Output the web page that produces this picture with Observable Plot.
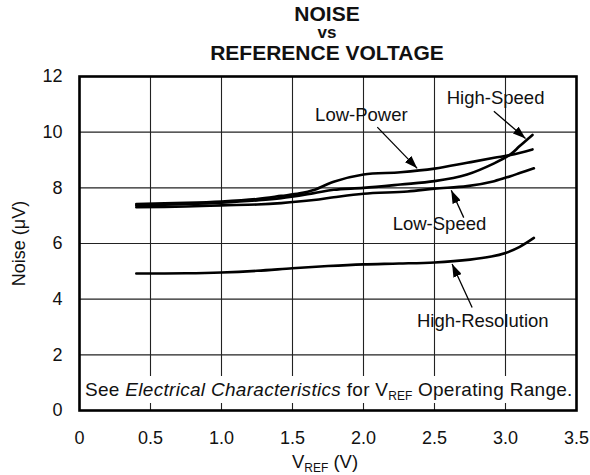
<!DOCTYPE html>
<html>
<head>
<meta charset="utf-8">
<script src="https://cdn.jsdelivr.net/npm/d3@7"></script>
<script src="https://cdn.jsdelivr.net/npm/@observablehq/plot@0.6"></script>
<style>
  body { margin: 0; background: #fff; }
  #wrap { position: relative; width: 590px; height: 475px; overflow: hidden; font-family: "Liberation Sans", Arial, sans-serif; color: #111; }
  #wrap svg { position: absolute; left: 0; top: 0; }
  .ov { position: absolute; z-index: 2; white-space: nowrap; }
  .tl { left: 177px; width: 300px; text-align: center; font-weight: bold; }
  #t1 { top: 5px; font-size: 21px; line-height: 17px; }
  #t2 { top: 25.5px; font-size: 17px; line-height: 13px; }
  #t3 { top: 43.5px; font-size: 21px; line-height: 17px; }
  #note { left: 81px; width: 493px; top: 376px; height: 27px; background: #fff; font-size: 19px; letter-spacing: 0.3px; line-height: 27px; padding-left: 4px; box-sizing: border-box; }
  #xlab { left: 275px; width: 100px; top: 453px; text-align: center; font-size: 18.5px; line-height: 18.5px; }
  sub { font-size: 12px; vertical-align: -3.5px; line-height: 0; letter-spacing: 0; }
</style>
</head>
<body>
<div id="wrap">
  <div id="t1" class="ov tl">NOISE</div>
  <div id="t2" class="ov tl">vs</div>
  <div id="t3" class="ov tl">REFERENCE VOLTAGE</div>
  <div id="note" class="ov">See <i>Electrical Characteristics</i> for V<sub>REF</sub> Operating Range.</div>
  <div id="xlab" class="ov">V<sub>REF</sub> (V)</div>
</div>
<script>
// ---- data ----
const xTicks = [0, 0.5, 1.0, 1.5, 2.0, 2.5, 3.0, 3.5];
const yTicks = [0, 2, 4, 6, 8, 10, 12];

const hiResV = [0.4, 0.75, 1.0, 1.25, 1.5, 1.75, 2.0, 2.25, 2.5, 2.75, 2.9, 3.0, 3.1, 3.2];
const hiResN = [4.92, 4.93, 4.96, 5.02, 5.11, 5.19, 5.25, 5.28, 5.32, 5.42, 5.53, 5.66, 5.88, 6.2];

const lowSpeedV = [0.4, 0.75, 1.0, 1.25, 1.42, 1.65, 1.79, 2.0, 2.31, 2.5, 2.73, 2.92, 3.035, 3.1, 3.2];
const lowSpeedN = [7.30, 7.33, 7.37, 7.40, 7.45, 7.56, 7.66, 7.79, 7.87, 7.97, 8.06, 8.24, 8.42, 8.53, 8.70];

const highSpeedV = [0.4, 0.75, 1.0, 1.25, 1.42, 1.65, 1.79, 2.0, 2.26, 2.5, 2.73, 2.92, 3.035, 3.1, 3.19];
const highSpeedN = [7.37, 7.42, 7.47, 7.55, 7.63, 7.81, 7.93, 8.0, 8.12, 8.24, 8.48, 8.88, 9.2, 9.5, 9.9];

const lowPowerV = [0.4, 0.75, 1.0, 1.25, 1.42, 1.55, 1.65, 1.79, 2.0, 2.26, 2.5, 2.73, 2.92, 3.035, 3.19];
const lowPowerN = [7.42, 7.46, 7.51, 7.60, 7.71, 7.80, 7.92, 8.22, 8.48, 8.56, 8.69, 8.90, 9.08, 9.18, 9.38];

const labelText = ["Low-Power", "High-Speed", "Low-Speed", "High-Resolution"];
const labelV = [1.985, 2.93, 2.535, 2.84];
const labelN = [10.63, 11.23, 6.69, 3.23];
const arrowFromV = [2.097, 2.918, 2.706, 2.765];
const arrowFromN = [10.18, 10.75, 6.93, 3.70];
const arrowToV = [2.378, 3.141, 2.618, 2.624];
const arrowToN = [8.70, 9.77, 7.91, 5.26];

// ---- build tables ----
const series = [
  ["High-Resolution", hiResV, hiResN],
  ["Low-Speed", lowSpeedV, lowSpeedN],
  ["High-Speed", highSpeedV, highSpeedN],
  ["Low-Power", lowPowerV, lowPowerN]
];
const rows = series.flatMap(([name, vs, ns]) => vs.map((v, i) => ({series: name, v, n: ns[i]})));
const labels = labelText.map((t, i) => ({t, v: labelV[i], n: labelN[i]}));
const arrows = labelText.map((t, i) => ({x1: arrowFromV[i], y1: arrowFromN[i], x2: arrowToV[i], y2: arrowToN[i]}));

const chart = Plot.plot({
  width: 590,
  height: 475,
  marginTop: 76,
  marginBottom: 65,
  marginLeft: 79,
  marginRight: 14,
  style: {fontFamily: "'Liberation Sans', Arial, sans-serif", fontSize: "18px", color: "#111", background: "transparent"},
  x: {domain: [0, 3.5], ticks: xTicks, tickFormat: d => d === 0 ? "0" : d.toFixed(1), tickSize: 0, tickPadding: 21, label: null},
  y: {domain: [0, 12], ticks: yTicks, tickSize: 0, tickPadding: 17, label: "Noise (μV)", labelAnchor: "center", labelOffset: 67, labelArrow: "none"},
  marks: [
    Plot.gridX(xTicks, {stroke: "#222", strokeOpacity: 1, strokeWidth: 1.1}),
    Plot.gridY(yTicks, {stroke: "#222", strokeOpacity: 1, strokeWidth: 1.1}),
    Plot.line(rows, {x: "v", y: "n", z: "series", curve: "catmull-rom", stroke: "#000", strokeWidth: 2.6}),
    Plot.link(arrows, {x1: "x1", y1: "y1", x2: "x2", y2: "y2", stroke: "#000", strokeWidth: 1.3}),
    Plot.text(labels, {x: "v", y: "n", text: "t", fontSize: 18.5, fill: "#111"}),
    Plot.frame({stroke: "#000", strokeWidth: 2.6})
  ]
});
document.getElementById("wrap").prepend(chart);

// filled arrowheads for the annotation links
const svg = d3.select(chart);
const defs = svg.append("defs");
defs.append("marker")
  .attr("id", "fillArrow")
  .attr("viewBox", "-13 -4.5 13 9")
  .attr("refX", 0).attr("refY", 0)
  .attr("markerWidth", 13).attr("markerHeight", 9)
  .attr("markerUnits", "userSpaceOnUse")
  .attr("orient", "auto")
  .append("path").attr("d", "M-13,-4.5L0,0L-13,4.5Z").attr("fill", "#000");
svg.selectAll("g[aria-label='link'] path").attr("marker-end", "url(#fillArrow)");
</script>
</body>
</html>
